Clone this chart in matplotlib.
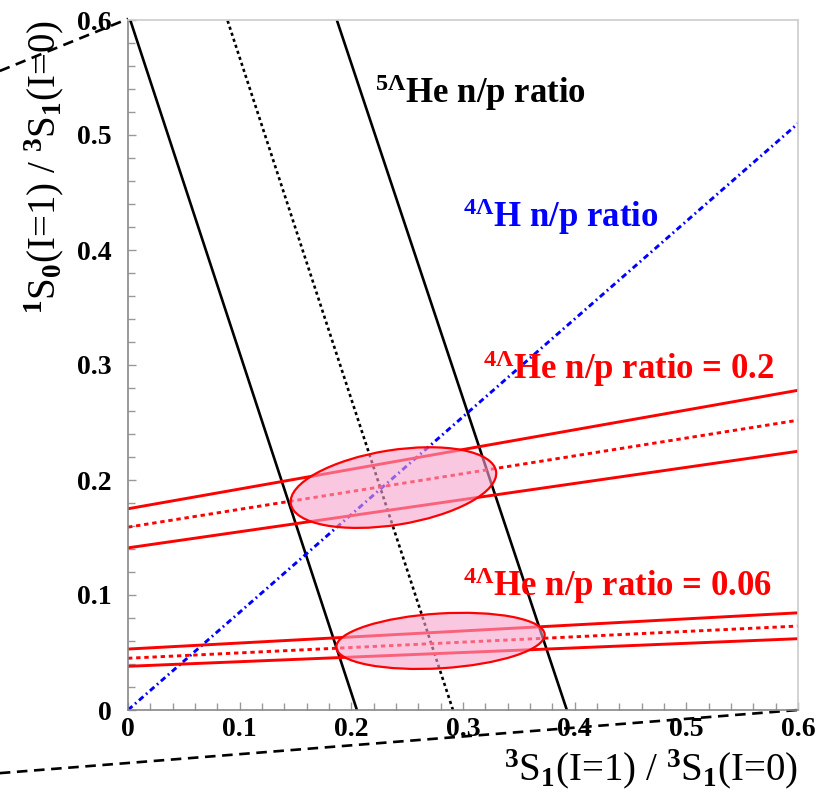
import numpy as np
import matplotlib
matplotlib.use("Agg")
import matplotlib.pyplot as plt
from matplotlib.patches import Ellipse

# ---- data ----
# black bands: x at y = 0 and y = 0.6 (5-Lambda-He n/p ratio)
he5_y          = [0.0, 0.6]
he5_left_x     = [0.205, 0.002]
he5_center_x   = [0.291, 0.089]
he5_right_x    = [0.393, 0.187]

# blue line (4-Lambda-H n/p ratio)
h4_x = [0.0, 0.6]
h4_y = [0.0, 0.51]

# red bands: y at x = 0 and x = 0.6 (4-Lambda-He n/p ratio)
he4_x          = [0.0, 0.6]
he4_02_upper   = [0.175, 0.278]
he4_02_center  = [0.159, 0.252]
he4_02_lower   = [0.141, 0.225]
he4_006_upper  = [0.053, 0.0845]
he4_006_center = [0.045, 0.073]
he4_006_lower  = [0.038, 0.062]

# overlap ellipses: center x, center y, width, height, angle
ell_02  = (0.2377, 0.1934, 0.186, 0.065, 8.7)
ell_006 = (0.2798, 0.0601, 0.187, 0.0476, 3.45)

# decorative dashed lines outside the frame
deco_top_x = [-0.1148, 0.0]
deco_top_y = [0.5557, 0.601]
deco_bot_x = [-0.1148, 0.6]
deco_bot_y = [-0.0549, 0.0]

ticks = [0.0, 0.1, 0.2, 0.3, 0.4, 0.5, 0.6]
tick_labels = ["0", "0.1", "0.2", "0.3", "0.4", "0.5", "0.6"]

plt.rcParams["font.family"] = ["Liberation Serif", "DejaVu Serif"]
plt.rcParams["font.weight"] = "bold"
plt.rcParams["mathtext.fontset"] = "custom"
plt.rcParams["mathtext.rm"] = "Liberation Serif:bold"
plt.rcParams["mathtext.it"] = "Liberation Serif:bold:italic"
plt.rcParams["mathtext.bf"] = "Liberation Serif:bold"

fig = plt.figure(figsize=(8.19, 7.96), dpi=100, facecolor="white")
ax = fig.add_axes([128 / 819, 86 / 796, 670 / 819, 690 / 796])
ax.set_xlim(0, 0.6)
ax.set_ylim(0, 0.6)

# black lines
ax.plot(he5_left_x, he5_y, color="black", lw=1.9, solid_capstyle="butt")
ax.plot(he5_center_x, he5_y, color="black", lw=1.9, linestyle=(0, (1.2, 1.2)))
ax.plot(he5_right_x, he5_y, color="black", lw=1.9, solid_capstyle="butt")

# blue dash-dot
ax.plot(h4_x, h4_y, color="#0000ff", lw=2.1, linestyle=(0, (2.0, 1.2, 0.6, 1.2)))

# red bands
for up, cen, lo in [(he4_02_upper, he4_02_center, he4_02_lower),
                    (he4_006_upper, he4_006_center, he4_006_lower)]:
    ax.plot(he4_x, up, color="#ff0000", lw=2.1)
    ax.plot(he4_x, cen, color="#ff0000", lw=2.1, linestyle=(0, (1.5, 1.3)))
    ax.plot(he4_x, lo, color="#ff0000", lw=2.1)

# ellipses
for cx, cy, w, h, ang in [ell_02, ell_006]:
    ax.add_patch(Ellipse((cx, cy), w, h, angle=ang, facecolor=(0.97, 0.64, 0.80),
                         alpha=0.6, edgecolor="none", zorder=4))
    ax.add_patch(Ellipse((cx, cy), w, h, angle=ang, facecolor="none",
                         edgecolor="#ff0000", lw=1.6, zorder=5))

# decorative dashed lines
ax.plot(deco_top_x, deco_top_y, color="black", lw=1.9, linestyle=(0, (4, 2.5)), clip_on=False)
ax.plot(deco_bot_x, deco_bot_y, color="black", lw=1.9, linestyle=(0, (4, 2.5)), clip_on=False)

# labels on the plot
ax.text(0.2215, 0.528, r"$^{5\Lambda}$He n/p ratio", fontsize=25, color="black")
ax.text(0.300, 0.420, r"$^{4\Lambda}$H n/p ratio", fontsize=25, color="#0000ff")
ax.text(0.318, 0.2875, r"$^{4\Lambda}$He n/p ratio = 0.2", fontsize=25, color="#ff0000")
ax.text(0.300, 0.0993, r"$^{4\Lambda}$He n/p ratio = 0.06", fontsize=25, color="#ff0000")

# axes styling (ROOT-like)
ax.set_xticks(ticks)
ax.set_xticklabels(tick_labels)
ax.set_yticks(ticks)
ax.set_yticklabels(tick_labels)
ax.set_xticks(np.arange(0, 0.601, 0.02), minor=True)
ax.set_yticks(np.arange(0, 0.601, 0.02), minor=True)
ax.tick_params(which="both", direction="in", color="#999999", width=1.0,
               top=False, right=False)
ax.tick_params(which="major", length=6, labelsize=20, pad=5)
ax.tick_params(which="minor", length=5)
ax.tick_params(axis="y", pad=12)
for s in ["left", "bottom"]:
    ax.spines[s].set_color("#888888")
    ax.spines[s].set_linewidth(1.2)
for s in ["top", "right"]:
    ax.spines[s].set_color("#cccccc")
    ax.spines[s].set_linewidth(1.2)

ax.set_xlabel(r"$^{3}$S$_{1}$(I=1) / $^{3}$S$_{1}$(I=0)", fontsize=28,
              loc="right", labelpad=4)
ax.set_ylabel(r"$^{1}$S$_{0}$(I=1) / $^{3}$S$_{1}$(I=0)", fontsize=28,
              loc="top", labelpad=8)

fig.savefig("out.png", dpi=100, facecolor="white")
